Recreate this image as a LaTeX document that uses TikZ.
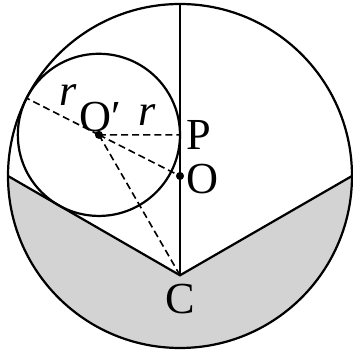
\documentclass[tikz,border=0pt]{standalone}
\usepackage{fontspec}
\setmainfont{Liberation Serif}
\definecolor{regiongray}{RGB}{211,211,211}
\begin{document}
\begin{tikzpicture}[line width=1.1pt,
  lbl/.style={font=\fontsize{22}{26}\selectfont,inner sep=0pt},
  aux/.style={dashed,line width=0.8pt,dash pattern=on 3.5pt off 2pt}]
\useasboundingbox (-3.1395,-3.087) rectangle (3.0174,3.0698);
\coordinate (O) at (0,0);
\coordinate (A) at (-3,0);
\coordinate (B) at (3,0);
\coordinate (C) at (0,-1.7321);
\coordinate (Top) at (0,3);
\coordinate (Oc) at (-1.4142,0.7174);
\coordinate (P) at (0,0.7174);
\coordinate (T) at (-2.6754,1.3572);
% shaded part below the two chords
\fill[regiongray] (A) -- (C) -- (B) arc[start angle=0,end angle=-180,radius=3] -- cycle;
\draw (O) circle (3);
\draw (A) -- (C) -- (B);
\draw[line width=0.9pt] (Top) -- (C);
\draw (Oc) circle (1.4142);
\draw[aux] (Oc) -- (T) (Oc) -- (P) (Oc) -- (O) (Oc) -- (C);
\fill (Oc) circle (2pt) (O) circle (2pt);
\node[lbl] (r1) at (-1.953,1.413) {\textit{r}};
\node[lbl] (r2) at (-0.576,1.064) {\textit{r}};
\node[lbl] (Ol) at (-1.395,1.029) {O′};
\node[lbl] (Pl) at (0.331,0.715) {P};
\node[lbl] (Oo) at (0.384,-0.052) {O};
\node[lbl] (Cl) at (0,-2.145) {C};
\end{tikzpicture}
\end{document}
